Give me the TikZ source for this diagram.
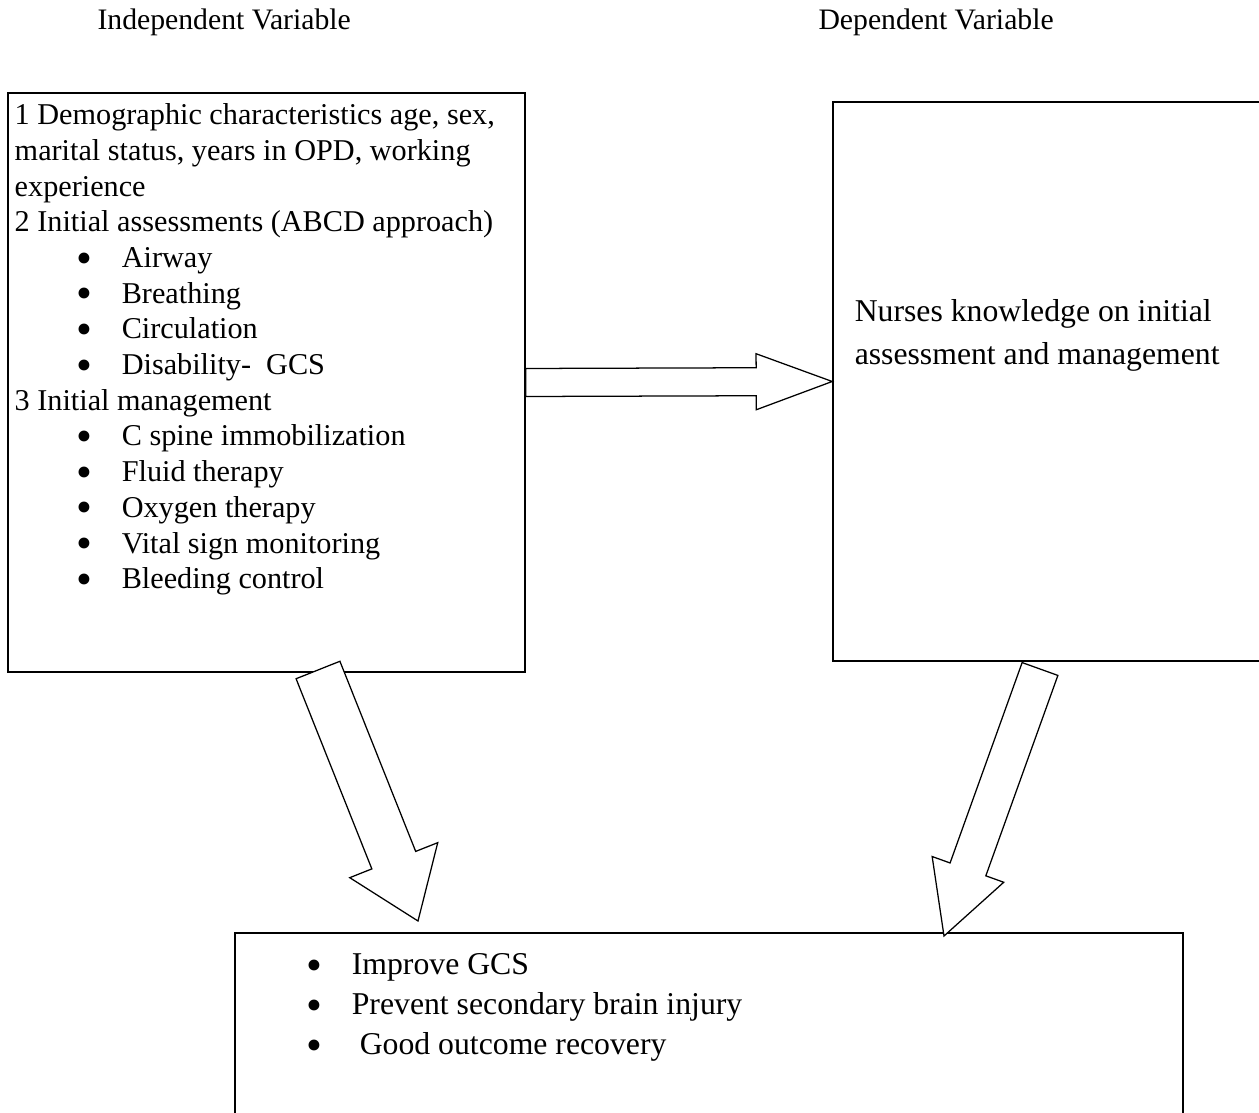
\documentclass[tikz,border=0pt]{standalone}
\usepackage{fontspec}
\setmainfont{Liberation Serif}
\usetikzlibrary{calc,fit,positioning}

% hollow block arrow: tail, tip, half shaft, half head, head length
\newcommand{\fatarrow}[5]{%
  \coordinate (fa) at ($(#2)!#5!(#1)$);
  \draw[fat] ($(#1)!#3!90:(#2)$) -- ($(fa)!#3!90:(#2)$) -- ($(fa)!#4!90:(#2)$)
    -- (#2) -- ($(fa)!#4!-90:(#2)$) -- ($(fa)!#3!-90:(#2)$)
    -- ($(#1)!#3!-90:(#2)$) -- cycle;}
\newcommand{\bigdot}{\smash{\raisebox{-2.2pt}{\fontsize{18}{18}\selectfont\textbullet}}}
\newcommand{\itm}[2][24.6pt]{\hspace*{#1}\makebox[17.9pt][l]{\bigdot}#2}

\begin{document}
\begin{tikzpicture}[x=0.397pt,y=-0.397pt,
    frame/.style={draw,line width=0.6pt,inner sep=0pt},
    fat/.style={draw,line width=0.5pt,fill=white,line join=miter},
    txt/.style={inner sep=0pt,align=left,anchor=north west},
    head/.style={inner sep=0pt,anchor=base west,font=\fontsize{11.8}{14}\selectfont}]
  \useasboundingbox (0,0) rectangle (1259,1113);
  \clip (0,0) rectangle (1259,1113);

  \node[head] (hind) at (97,30) {Independent Variable};
  \node[head] (hdep) at (818,30) {Dependent Variable};

  \node[frame,fit={(8,93) (525,672)}] (indep) {};
  \node[frame,fit={(833,102) (1280,661)}] (dep) {};
  \node[frame,fit={(235,933) (1183,1130)}] (outc) {};

  \node[txt,font=\fontsize{12}{14.17}\selectfont] (indtxt) at ($(indep.north west)+(7,11)$)
    {1 Demographic characteristics age, sex,\\
     marital status, years in OPD, working\\
     experience\\
     2 Initial assessments (ABCD approach)\\
     \itm{Airway}\\
     \itm{Breathing}\\
     \itm{Circulation}\\
     \itm{Disability-\ \ GCS}\\
     3 Initial management\\
     \itm{C spine immobilization}\\
     \itm{Fluid therapy}\\
     \itm{Oxygen therapy}\\
     \itm{Vital sign monitoring}\\
     \itm{Bleeding control}};

  \node[txt,font=\fontsize{12.6}{17}\selectfont] (deptxt) at ($(dep.north west)+(22,198)$)
    {Nurses knowledge on initial\\ assessment and management};

  \node[txt,font=\fontsize{12.6}{15.9}\selectfont] (outtxt) at ($(outc.north west)+(72,21)$)
    {\itm[0pt]{Improve GCS}\\
     \itm[0pt]{Prevent secondary brain injury}\\
     \itm[0pt]{\ Good outcome recovery}};

  \coordinate (b1) at (318,670);
  \coordinate (b2) at (418,921);
  \coordinate (c1) at (1040,669);
  \coordinate (c2) at (944,936);

  \fatarrow{indep.east}{dep.west}{5.56pt}{11.12pt}{30.2pt}
  \fatarrow{b1}{b2}{9.37pt}{18.8pt}{26pt}
  \fatarrow{c1}{c2}{7.54pt}{15.1pt}{28.1pt}
\end{tikzpicture}
\end{document}
